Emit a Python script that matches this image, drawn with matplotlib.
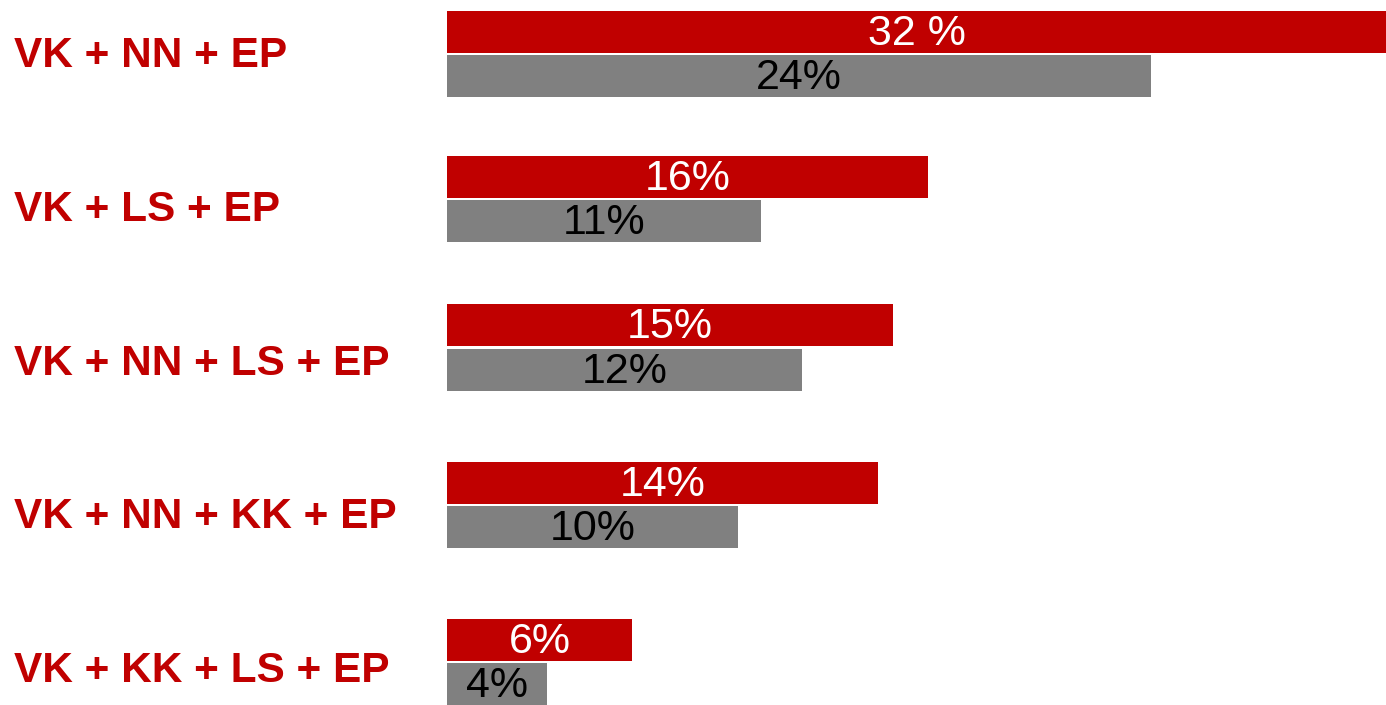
import matplotlib.pyplot as plt
import numpy as np

plt.rcParams['font.family'] = ['Liberation Sans', 'DejaVu Sans']

categories = ["VK + NN + EP", "VK + LS + EP", "VK + NN + LS + EP",
              "VK + NN + KK + EP", "VK + KK + LS + EP"]
red_values = [32.0, 16.4, 15.2, 14.7, 6.3]
gray_values = [24.0, 10.7, 12.1, 9.9, 3.4]
red_labels = ["32 %", "16%", "15%", "14%", "6%"]
gray_labels = ["24%", "11%", "12%", "10%", "4%"]

RED = "#C00000"
GRAY = "#808080"

fig = plt.figure(figsize=(13.86, 7.05), dpi=100)
ax = fig.add_axes([447 / 1386, 0, 1 - 447 / 1386, 1])

# group spacing in the original slide is a little uneven,
# while the category labels sit on an even grid
y = np.array([0, 0.952, 1.931, 2.969, 4.0])
label_y = np.linspace(0.0, 4.048, len(categories))
h = 0.276
off = 0.146

ax.barh(y - off, red_values, height=h, color=RED)
ax.barh(y + off, gray_values, height=h, color=GRAY)

for yi, v, lab in zip(y, red_values, red_labels):
    ax.annotate(lab, xy=(v / 2, yi - off), xytext=(0, -2),
                textcoords="offset pixels", ha="center", va="center",
                color="white", fontsize=31)
for yi, v, lab in zip(y, gray_values, gray_labels):
    ax.annotate(lab, xy=(v / 2, yi + off), xytext=(0, -2),
                textcoords="offset pixels", ha="center", va="center",
                color="black", fontsize=31)

# category labels on the left, in figure coords
for yi, cat in zip(label_y, categories):
    ax.annotate(cat, xy=(0, yi), xycoords=("figure fraction", "data"),
                xytext=(14, -2), textcoords="offset pixels",
                ha="left", va="center", color=RED, fontsize=30.5,
                fontweight="bold", annotation_clip=False)

ax.set_xlim(0, 32)
ax.set_ylim(4.284, -0.356)
ax.axis("off")

fig.savefig("out.png", dpi=100)
